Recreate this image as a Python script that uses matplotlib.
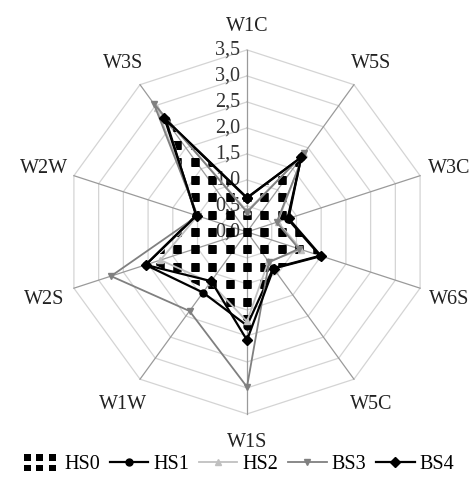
import numpy as np
import matplotlib
matplotlib.use('Agg')
import matplotlib.pyplot as plt
from matplotlib.patches import Polygon, Rectangle, Patch
from matplotlib.legend_handler import HandlerBase

# axes, clockwise from the top
categories = ['W1C', 'W5S', 'W3C', 'W6S', 'W5C', 'W1S', 'W1W', 'W2S', 'W2W', 'W3S']

hs0 = [0.62, 1.72, 0.80, 1.45, 0.85, 1.75, 1.35, 1.95, 1.00, 2.60]
hs1 = [0.65, 1.78, 0.82, 1.48, 0.86, 1.80, 1.44, 2.05, 1.03, 2.65]
hs2 = [0.40, 1.85, 0.62, 1.10, 0.70, 1.72, 1.20, 1.75, 1.00, 2.95]
bs3 = [0.38, 1.88, 0.60, 1.05, 0.72, 2.98, 1.88, 2.75, 1.00, 3.05]
bs4 = [0.66, 1.77, 0.84, 1.50, 0.87, 2.08, 1.17, 2.05, 1.02, 2.70]

ticks = [0.0, 0.5, 1.0, 1.5, 2.0, 2.5, 3.0, 3.5]
tick_labels = ['0,0', '0,5', '1,0', '1,5', '2,0', '2,5', '3,0', '3,5']

plt.rcParams['font.family'] = ['Liberation Serif', 'DejaVu Serif']
FS = 14.5
serif = {'family': 'Liberation Serif', 'size': FS}

n = len(categories)
angles = np.arange(n) * 2 * np.pi / n
rmax = ticks[-1]


def to_xy(vals, close=True):
    r = np.asarray(vals, dtype=float)
    a = angles
    if close:
        r = np.append(r, r[0])
        a = np.append(a, a[0])
    return r * np.sin(a), r * np.cos(a)


class DotsHandler(HandlerBase):
    # little square pattern for the HS0 legend entry
    def create_artists(self, legend, orig_handle, xdescent, ydescent,
                       width, height, fontsize, trans):
        arts = []
        cw = width / 3.0
        sw = cw * 0.55
        sh = height * 0.38
        for i in range(3):
            for j in range(2):
                x0 = -xdescent + i * cw + (cw - sw) / 2
                y0 = -ydescent + j * (height * 0.62) - height * 0.02
                arts.append(Rectangle((x0, y0), sw, sh, facecolor='black',
                                      edgecolor='none', transform=trans))
        return arts


fig = plt.figure(figsize=(4.75, 4.8), dpi=100)
ax = fig.add_axes([0, 0, 1, 1])
ax.set_xlim(-4.75, 4.385)
ax.set_ylim(-4.77, 4.46)
ax.axis('off')

# polygon grid
for t in ticks[1:]:
    gx, gy = to_xy([t] * n)
    ax.plot(gx, gy, color='#d4d4d4', lw=0.9, zorder=1)
for a in angles:
    ax.plot([0, rmax * np.sin(a)], [0, rmax * np.cos(a)], color='#9a9a9a',
            lw=0.9, zorder=1.2)

for t, lab in zip(ticks, tick_labels):
    ax.text(-0.13, t, lab, ha='right', va='center', fontdict=serif,
            color='#333333', zorder=1.5)

for a, lab in zip(angles, categories):
    rl = 4.0 + 0.1 * abs(np.sin(a))
    ax.text(rl * np.sin(a), rl * np.cos(a) - 0.04, lab, ha='center',
            va='center', fontdict=serif, color='#222222')

# HS0: square-dot pattern clipped to its polygon
px, py = to_xy(hs0, close=False)
poly = Polygon(np.column_stack([px, py]), closed=True, facecolor='none',
               edgecolor='none', transform=ax.transData)
ax.add_patch(poly)
step = 0.335
g = np.arange(-12, 13) * step
GX, GY = np.meshgrid(g, g)
dots, = ax.plot(GX.ravel(), GY.ravel(), 's', ms=5.4, color='black',
                mec='black', mew=0.4, zorder=2)
dots.set_clip_path(poly)

x, y = to_xy(hs1)
l1, = ax.plot(x, y, '-', color='black', lw=1.6, marker='o', ms=5, zorder=3,
              label='HS1')
x, y = to_xy(hs2)
l2, = ax.plot(x, y, '-', color='#c0c0c0', lw=1.3, marker='^', ms=5,
              zorder=3.1, label='HS2')
x, y = to_xy(bs3)
l3, = ax.plot(x, y, '-', color='#808080', lw=1.3, marker='v', ms=5,
              zorder=3.2, label='BS3')
x, y = to_xy(bs4)
l4, = ax.plot(x, y, '-', color='black', lw=1.6, marker='D', ms=5,
              zorder=3.3, label='BS4')

h0 = Patch(facecolor='none', edgecolor='none', label='HS0')
fig.legend([h0, l1, l2, l3, l4], ['HS0', 'HS1', 'HS2', 'BS3', 'BS4'],
           loc='center', bbox_to_anchor=(0.5, 1 - 464 / 480), ncol=5,
           frameon=False, prop=serif, handlelength=1.9, handletextpad=0.25,
           columnspacing=0.5, borderaxespad=0, handleheight=0.9,
           handler_map={h0: DotsHandler()})

fig.savefig('out.png', dpi=100)
